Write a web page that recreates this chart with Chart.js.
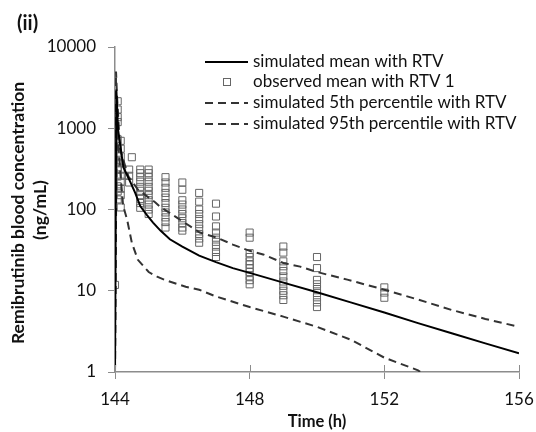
<!DOCTYPE html>
<html lang="en">
<head>
    <meta charset="UTF-8">
    <title>Remibrutinib with RTV</title>
    <script src="https://cdn.jsdelivr.net/npm/chart.js"></script>
    <style>
        body {
            margin: 0;
            background: #fff;
            font-family: Lato, Arial, sans-serif;
        }

        .wrap {
            position: relative;
            width: 536px;
            height: 432px;
        }

        .panel-tag {
            position: absolute;
            left: 17px;
            top: 10px;
            font-size: 20px;
            font-weight: bold;
            color: #111;
        }
    </style>
</head>
<body>
    <div class="wrap">
        <canvas id="chart" width="536" height="432"></canvas>
        <div class="panel-tag">(ii)</div>
    </div>

    <script>
        // x axis (h) and y axis (ng/mL, log)
        const xTicks = [144, 148, 152, 156];
        const yTicks = [1, 10, 100, 1000, 10000];

        // simulated mean
        const meanTime = [144, 144.04, 144.09, 144.25, 144.45, 144.6, 144.75, 144.95, 145.13, 145.35, 145.63, 146, 146.5, 147, 147.5, 148, 149, 150, 151, 152, 153, 154, 155, 156];
        const meanConc = [1, 3000, 970, 330, 220, 160, 110, 85, 69, 55, 43, 35, 27, 22.5, 19, 16.6, 12.6, 9.6, 7.2, 5.4, 4.0, 3.0, 2.25, 1.7];

        // simulated 5th percentile
        const p5Time = [144, 144.05, 144.1, 144.17, 144.24, 144.36, 144.5, 144.68, 145, 145.25, 145.5, 146.1, 146.5, 147, 148, 149, 150, 151, 152, 153, 153.3];
        const p5Conc = [1, 1200, 600, 250, 112, 75, 39, 24, 17, 14.9, 13.5, 11.2, 10.3, 8.5, 6.3, 4.8, 3.6, 2.5, 1.5, 1.05, 0.85];

        // simulated 95th percentile
        const p95Time = [144, 144.03, 144.06, 144.15, 144.4, 144.53, 144.68, 145.2, 145.33, 145.93, 146.52, 147.03, 147.5, 148, 148.4, 149, 149.5, 150, 150.9, 152, 153, 154, 155, 156];
        const p95Conc = [1, 5000, 2500, 550, 255, 215, 176, 122, 109, 75, 52, 45, 37, 31, 28, 22, 19.8, 17, 13.7, 10.3, 7.8, 5.8, 4.5, 3.6];

        // observed, one list per sampling time
        const obsTime = [144, 144.08, 144.17, 144.42, 144.5, 144.75, 145, 145.5, 146, 146.5, 147, 148, 149, 150, 152];
        const obsConc = [
            [11.8],
            [2150, 1700, 1370, 1190, 730, 600, 500, 390, 330, 310, 255, 193, 167, 133],
            [700, 560, 450, 370, 310, 260, 220, 180, 150, 106],
            [310, 260, 215],
            [440],
            [310, 280, 250, 220, 190, 170, 150, 135, 120, 105],
            [310, 280, 250, 220, 190, 170, 150, 130, 115, 100, 88],
            [250, 215, 185, 160, 140, 120, 105, 92, 80, 70, 60],
            [215, 175, 130, 115, 100, 88, 78, 68, 60, 55],
            [160, 125, 100, 88, 76, 66, 58, 50, 44, 39],
            [118, 82, 62, 52, 45, 40, 35, 30, 26],
            [52, 45, 29, 26, 23, 21, 19, 17, 15, 13.5, 12],
            [35, 29.5, 23, 20, 17.5, 15, 13, 11.5, 10, 8.8, 7.7],
            [26, 19, 13.6, 12, 10.5, 9.4, 8.3, 7.2, 6.3],
            [11, 9.5, 8.2]
        ];

        const legendLabels = [
            'simulated mean with RTV',
            'observed mean with RTV 1',
            'simulated 5th percentile with RTV',
            'simulated 95th percentile with RTV'
        ];
        const yTitle = ['Remibrutinib blood concentration', '(ng/mL)'];

        const toPoints = (xs, ys) => xs.map((x, i) => ({ x: x, y: ys[i] }));
        const obsPoints = [];
        obsTime.forEach((t, i) => {
            obsConc[i].forEach(v => obsPoints.push({ x: t, y: v }));
        });

        const lineStyle = {
            showLine: true,
            pointRadius: 0,
            fill: false,
            tension: 0,
            borderWidth: 2
        };

        // legend drawn inside the plot, top right
        const legendPlugin = {
            id: 'innerLegend',
            afterDatasetsDraw(chart) {
                const ctx = chart.ctx;
                const x0 = 205, x1 = 248, tx = 253;
                const rows = [62, 82, 103, 124];
                ctx.save();
                ctx.font = '17px Lato';
                ctx.textBaseline = 'middle';
                ctx.fillStyle = '#111';
                rows.forEach((y, i) => {
                    ctx.beginPath();
                    if (i === 1) {
                        ctx.strokeStyle = '#666';
                        ctx.lineWidth = 1;
                        ctx.strokeRect(223.5, y - 3.5, 7, 7);
                    } else {
                        ctx.strokeStyle = i === 0 ? '#000' : '#333';
                        ctx.lineWidth = 2;
                        ctx.setLineDash(i === 0 ? [] : [8, 5]);
                        ctx.moveTo(x0, y);
                        ctx.lineTo(x1, y);
                        ctx.stroke();
                        ctx.setLineDash([]);
                    }
                    ctx.fillText(legendLabels[i], tx, y);
                });
                ctx.restore();
            }
        };

        // x tick marks poke up into the plot a little, plus the rotated y title
        const axisExtras = {
            id: 'axisExtras',
            afterDraw(chart) {
                const ctx = chart.ctx;
                const xs = chart.scales.x;
                const area = chart.chartArea;
                ctx.save();
                ctx.strokeStyle = '#8c8c8c';
                ctx.lineWidth = 1;
                xTicks.forEach(v => {
                    const px = Math.round(xs.getPixelForValue(v)) + 0.5;
                    ctx.beginPath();
                    ctx.moveTo(px, area.bottom - 7);
                    ctx.lineTo(px, area.bottom);
                    ctx.stroke();
                });

                ctx.translate(0, 213);
                ctx.rotate(-Math.PI / 2);
                ctx.font = 'bold 17.5px Lato';
                ctx.fillStyle = '#111';
                ctx.textAlign = 'center';
                ctx.textBaseline = 'middle';
                ctx.fillText(yTitle[0], 0, 18);
                ctx.fillText(yTitle[1], 3, 40);
                ctx.restore();
            }
        };

        new Chart(document.getElementById('chart'), {
            type: 'scatter',
            data: {
                datasets: [
                    Object.assign({
                        label: legendLabels[0],
                        data: toPoints(meanTime, meanConc),
                        borderColor: '#000',
                        order: 1
                    }, lineStyle),
                    {
                        label: legendLabels[1],
                        data: obsPoints,
                        pointStyle: 'rect',
                        pointRadius: 5,
                        borderColor: '#666',
                        backgroundColor: 'rgba(255,255,255,0)',
                        borderWidth: 1,
                        order: 4
                    },
                    Object.assign({
                        label: legendLabels[2],
                        data: toPoints(p5Time, p5Conc),
                        borderColor: '#333',
                        borderDash: [8, 5],
                        order: 2
                    }, lineStyle),
                    Object.assign({
                        label: legendLabels[3],
                        data: toPoints(p95Time, p95Conc),
                        borderColor: '#333',
                        borderDash: [8, 5],
                        order: 3
                    }, lineStyle)
                ]
            },
            options: {
                responsive: false,
                animation: false,
                layout: {
                    padding: { top: 47, right: 17, bottom: 0, left: 0 }
                },
                plugins: {
                    legend: { display: false },
                    tooltip: { enabled: false }
                },
                scales: {
                    x: {
                        type: 'linear',
                        min: 144,
                        max: 156,
                        afterBuildTicks: scale => {
                            scale.ticks = xTicks.map(v => ({ value: v }));
                        },
                        afterFit: scale => {
                            scale.height = 60;
                            scale.paddingLeft = 0;
                            scale.paddingRight = 0;
                        },
                        grid: {
                            drawOnChartArea: false,
                            tickLength: 7,
                            color: '#8c8c8c'
                        },
                        border: { color: '#8c8c8c', width: 1.5 },
                        ticks: {
                            padding: 10,
                            color: '#111',
                            font: { family: 'Lato', size: 17 }
                        },
                        title: {
                            display: true,
                            text: 'Time (h)',
                            color: '#111',
                            padding: { top: 1, bottom: 0 },
                            font: { family: 'Lato', size: 16.5, weight: 'bold' }
                        }
                    },
                    y: {
                        type: 'logarithmic',
                        min: 1,
                        max: 10000,
                        afterBuildTicks: scale => {
                            scale.ticks = yTicks.map(v => ({ value: v }));
                        },
                        afterFit: scale => { scale.width = 115; },
                        grid: {
                            drawOnChartArea: false,
                            tickLength: 7,
                            color: '#8c8c8c'
                        },
                        border: { color: '#8c8c8c', width: 1.5 },
                        ticks: {
                            padding: 12,
                            color: '#111',
                            font: { family: 'Lato', size: 17 },
                            callback: v => String(v)
                        },
                        title: { display: false }
                    }
                }
            },
            plugins: [legendPlugin, axisExtras]
        });
    </script>
</body>
</html>
